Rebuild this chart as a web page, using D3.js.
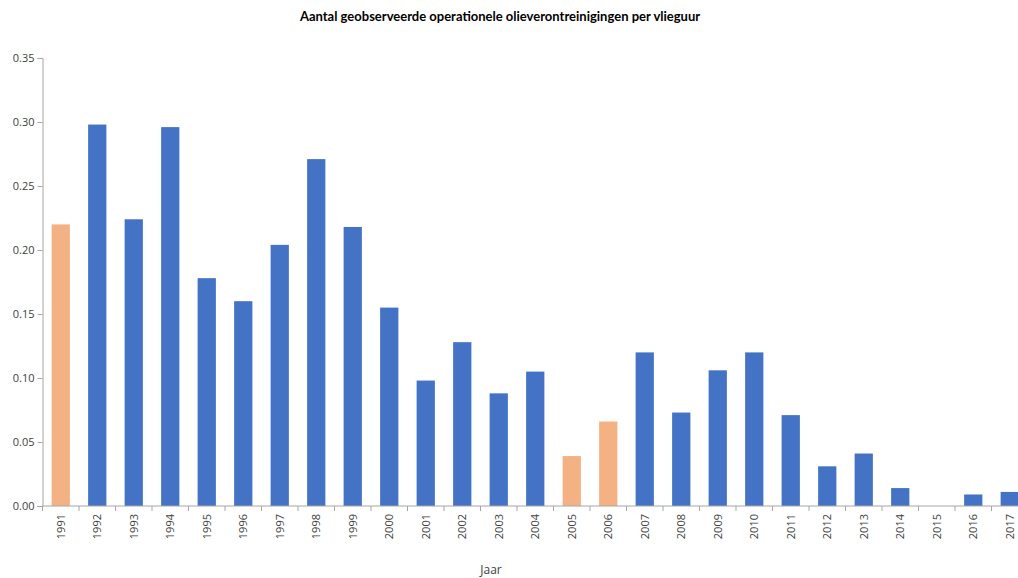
<!DOCTYPE html>
<html lang="nl">
<head>
    <meta charset="UTF-8">
    <title>Olieverontreinigingen per vlieguur</title>
    <script src="https://d3js.org/d3.v7.min.js"></script>
    <style>
        body { margin: 0; background: #fff; }
        text { font-family: "Open Sans", "DejaVu Sans", sans-serif; fill: #404040; }
        .title { font-family: Lato, sans-serif; font-weight: bold; font-size: 13px; fill: #000; }
    </style>
</head>
<body>
<svg width="1018" height="578"></svg>
<script>
// data
const years = ["1991","1992","1993","1994","1995","1996","1997","1998","1999","2000",
    "2001","2002","2003","2004","2005","2006","2007","2008","2009","2010",
    "2011","2012","2013","2014","2015","2016","2017"];
const values = [0.220, 0.298, 0.224, 0.296, 0.178, 0.160, 0.204, 0.271, 0.218, 0.155,
    0.098, 0.128, 0.088, 0.105, 0.039, 0.066, 0.120, 0.073, 0.106, 0.120,
    0.071, 0.031, 0.041, 0.014, 0.000, 0.009, 0.011];
const highlighted = ["1991", "2005", "2006"];
const yTicks = [0, 0.05, 0.10, 0.15, 0.20, 0.25, 0.30, 0.35];

const svg = d3.select("svg");
const plotLeft = 42.5, plotTop = 58, plotBottom = 506;
const step = 36.5;

const x = d3.scaleBand()
    .domain(years)
    .range([plotLeft, plotLeft + step * years.length])
    .paddingInner(0.5)
    .paddingOuter(0.25);

const y = d3.scaleLinear().domain([0, 0.35]).range([plotBottom, plotTop]);

// y axis
const yAxis = svg.append("g")
    .attr("transform", "translate(" + plotLeft + ",0)")
    .call(d3.axisLeft(y).tickValues(yTicks).tickSize(5).tickFormat(d3.format(".2f")));
yAxis.select(".domain").attr("stroke", "#a6a6a6");
yAxis.selectAll(".tick line").attr("stroke", "#a6a6a6");
yAxis.selectAll(".tick text").attr("font-size", 11).attr("fill", "#404040")
    .attr("font-family", "'Open Sans', sans-serif").attr("x", -8);

// bars
svg.append("g").selectAll("rect")
    .data(years)
    .enter().append("rect")
    .attr("x", d => x(d))
    .attr("width", x.bandwidth())
    .attr("y", (d, i) => y(values[i]))
    .attr("height", (d, i) => plotBottom - y(values[i]))
    .attr("fill", d => highlighted.includes(d) ? "#f4b183" : "#4472c4");

// x axis
const xg = svg.append("g").attr("transform", "translate(0," + plotBottom + ")");
xg.append("line")
    .attr("x1", plotLeft).attr("x2", plotLeft + step * years.length)
    .attr("stroke", "#a6a6a6");
xg.selectAll(".sep")
    .data(years)
    .enter().append("line")
    .attr("class", "sep")
    .attr("x1", (d, i) => plotLeft + step * i)
    .attr("x2", (d, i) => plotLeft + step * i)
    .attr("y1", 0).attr("y2", 5)
    .attr("stroke", "#a6a6a6");
xg.selectAll(".lbl")
    .data(years)
    .enter().append("text")
    .attr("class", "lbl")
    .attr("transform", d => "translate(" + (x(d) + x.bandwidth() / 2 + 4) + ",8) rotate(-90)")
    .attr("text-anchor", "end")
    .attr("font-size", 11)
    .text(d => d);

// titles
svg.append("text")
    .attr("class", "title")
    .attr("x", 500).attr("y", 21)
    .attr("text-anchor", "middle")
    .text("Aantal geobserveerde operationele olieverontreinigingen per vlieguur");

svg.append("text")
    .attr("x", 491).attr("y", 574)
    .attr("text-anchor", "middle")
    .attr("font-size", 12)
    .text("Jaar");
</script>
</body>
</html>
